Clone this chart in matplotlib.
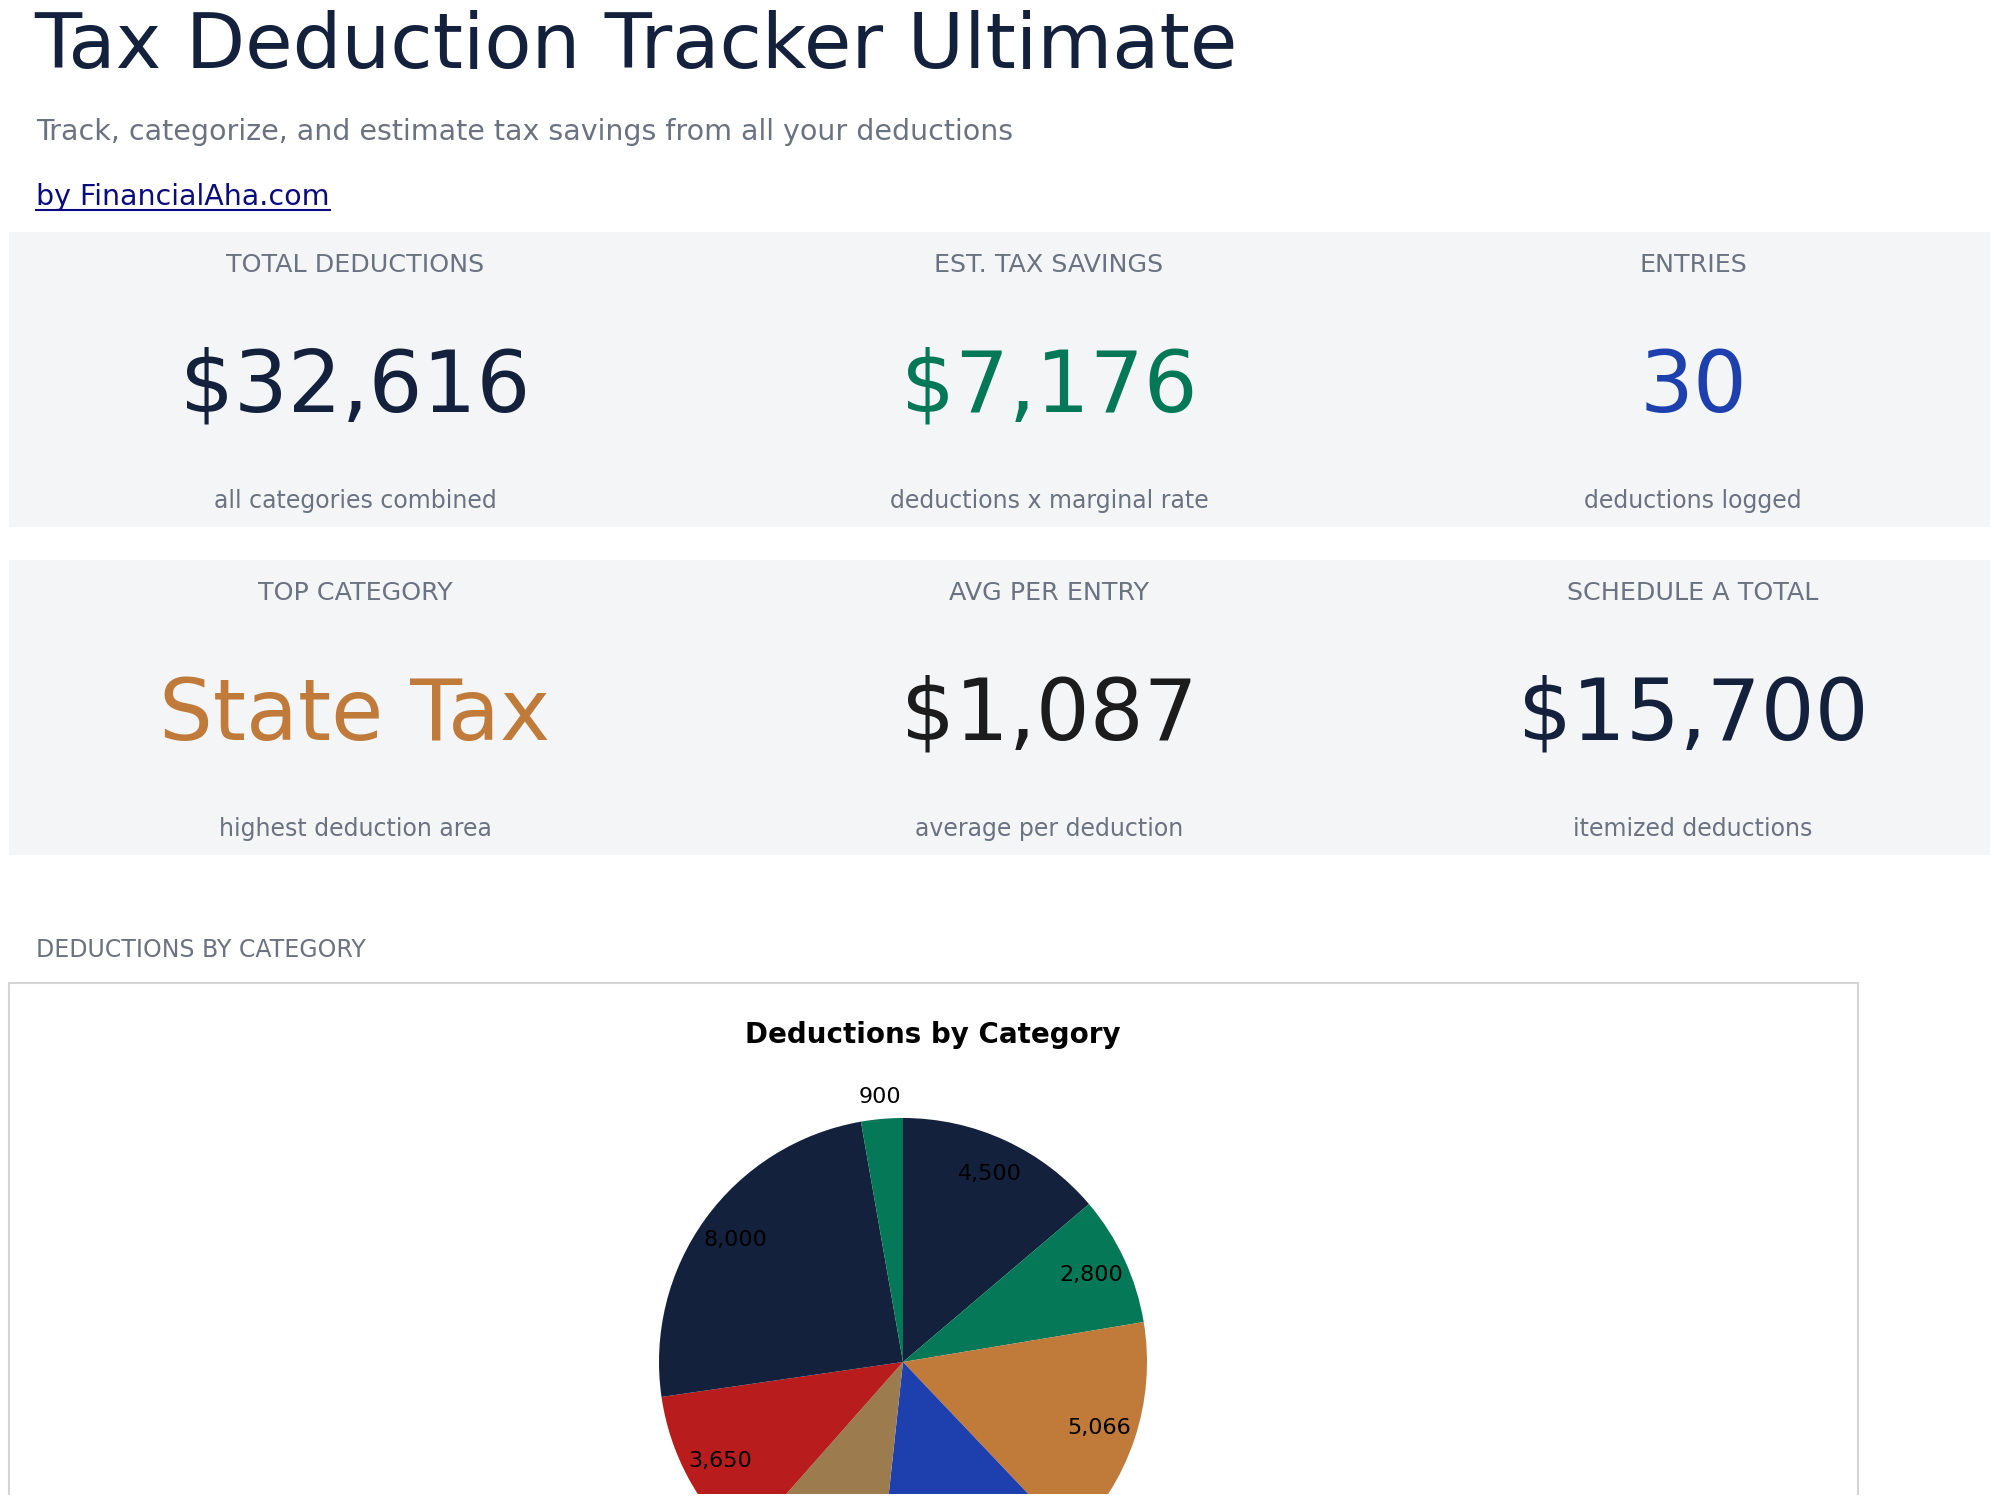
import matplotlib
matplotlib.use("Agg")
import matplotlib.pyplot as plt
import numpy as np
from matplotlib.patches import Rectangle
from matplotlib.lines import Line2D

W, H = 2000, 1502

# card data
card_labels = [["TOTAL DEDUCTIONS", "EST. TAX SAVINGS", "ENTRIES"],
               ["TOP CATEGORY", "AVG PER ENTRY", "SCHEDULE A TOTAL"]]
card_values = [["$32,616", "$7,176", "30"],
               ["State Tax", "$1,087", "$15,700"]]
card_subs = [["all categories combined", "deductions x marginal rate", "deductions logged"],
             ["highest deduction area", "average per deduction", "itemized deductions"]]
card_colors = [["#14213d", "#047857", "#1e40af"],
               ["#c07a3a", "#1c1c1c", "#14213d"]]

# pie data
categories = ["Mortgage Interest", "Retirement", "Business Expenses", "Home Office",
              "Charity", "Medical", "State Tax", "Education"]
amounts = [4500, 2800, 5066, 4500, 3200, 3650, 8000, 900]
pie_colors = ["#14213d", "#047857", "#c07a3a", "#1e40af", "#9c7b4f", "#b91c1c",
              "#14213d", "#047857"]

GRAY = "#6b7280"
BORDER = "#d4d4d4"


def fx(x):
    return x / W


def fy(y):
    return 1 - y / H


fig = plt.figure(figsize=(20, 15.02), dpi=100)
fig.patch.set_facecolor("white")

fig.text(fx(34), fy(68), "Tax Deduction Tracker Ultimate", fontsize=55.5,
         color="#14213d", va="baseline", ha="left")
fig.text(fx(36), fy(140), "Track, categorize, and estimate tax savings from all your deductions",
         fontsize=20.5, color=GRAY, va="baseline", ha="left")
link = fig.text(fx(36), fy(205), "by FinancialAha.com", fontsize=20.5,
                color="#0b0b80", va="baseline", ha="left")

# underline the link
fig.canvas.draw()
bb = link.get_window_extent()
fig.add_artist(Line2D([bb.x0 / W, bb.x1 / W], [fy(210), fy(210)],
                      transform=fig.transFigure, color="#0b0b80", lw=1.5))

# cards
rows_y = [(232, 527), (560, 855)]
col_x = [355, 1049, 1693]
offsets = (40, 180, 276)
for r, (top, bot) in enumerate(rows_y):
    fig.add_artist(Rectangle((fx(9), fy(bot)), (1990 - 9) / W, (bot - top) / H,
                             transform=fig.transFigure, facecolor="#f3f5f7",
                             edgecolor="none", zorder=0))
    for c in range(3):
        fig.text(fx(col_x[c]), fy(top + offsets[0]), card_labels[r][c], fontsize=18.3,
                 color=GRAY, ha="center", va="baseline")
        fig.text(fx(col_x[c]), fy(top + offsets[1]), card_values[r][c], fontsize=61,
                 color=card_colors[r][c], ha="center", va="baseline")
        fig.text(fx(col_x[c]), fy(top + offsets[2]), card_subs[r][c], fontsize=17,
                 color=GRAY, ha="center", va="baseline")

fig.text(fx(36), fy(957), "DEDUCTIONS BY CATEGORY", fontsize=17, color=GRAY,
         ha="left", va="baseline")

# chart box, open at the bottom where the page cuts it
box_l, box_r, box_t, vis_b = 9, 1858, 983, 1494
fig.add_artist(Line2D([fx(box_l), fx(box_l), fx(box_r), fx(box_r)],
                      [fy(vis_b), fy(box_t), fy(box_t), fy(vis_b)],
                      transform=fig.transFigure, color=BORDER, lw=1.5, zorder=5))

ax = fig.add_axes([fx(box_l), fy(vis_b), (box_r - box_l) / W, (vis_b - box_t) / H])
cx, cy, rad = 903, H - 1362, 244
wedges, _ = ax.pie(amounts, colors=pie_colors, startangle=90, counterclock=False,
                   center=(cx, cy), radius=rad, wedgeprops=dict(linewidth=0))
for w in wedges:
    w.set_clip_on(True)
ax.set_xlim(box_l, box_r)
ax.set_ylim(H - vis_b, H - box_t)
ax.set_aspect("auto")
ax.axis("off")

total = sum(amounts)
for w, v in zip(wedges, amounts):
    mid = np.deg2rad((w.theta1 + w.theta2) / 2)
    dist = 1.09 if v / total < 0.05 else 0.85
    tx = cx + dist * rad * np.cos(mid)
    ty = cy + dist * rad * np.sin(mid)
    if ty < H - vis_b + 15:
        continue  # label falls below the visible part of the chart
    ax.text(tx, ty, f"{v:,}", fontsize=16, ha="center", va="center", color="black")

fig.text(fx(933), fy(1043), "Deductions by Category", fontsize=20, fontweight="bold",
         ha="center", va="baseline", color="black")

fig.savefig("out.png", dpi=100, facecolor="white")
